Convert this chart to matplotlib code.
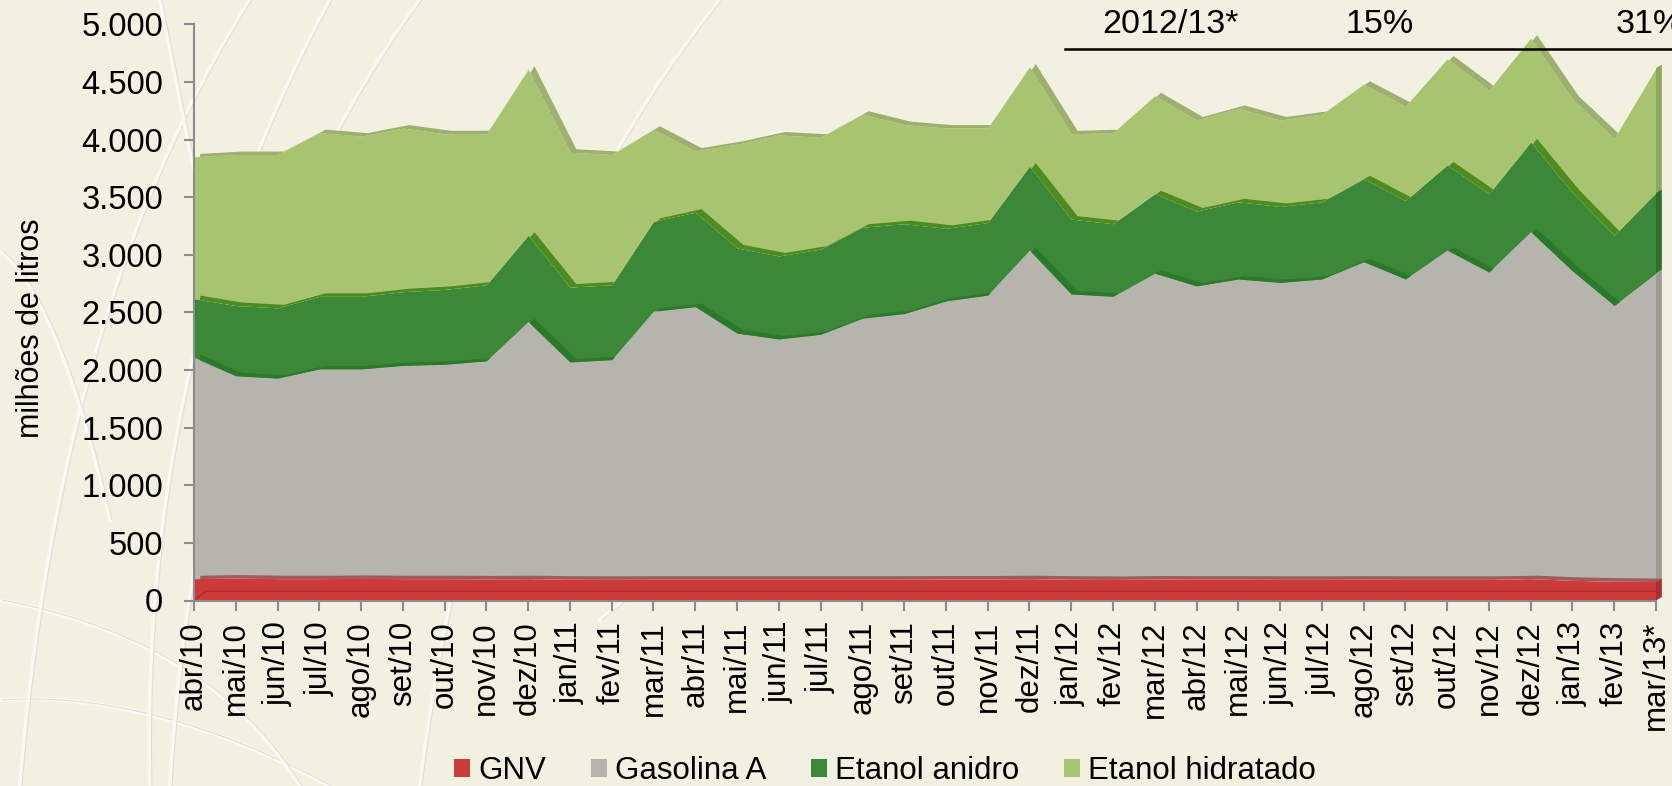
import numpy as np
import matplotlib
matplotlib.use("Agg")
import matplotlib.pyplot as plt
from matplotlib.patches import Patch, Polygon
from matplotlib.lines import Line2D

# ---------------- data (milhões de litros) ----------------
months = ["abr/10", "mai/10", "jun/10", "jul/10", "ago/10", "set/10", "out/10", "nov/10",
          "dez/10", "jan/11", "fev/11", "mar/11", "abr/11", "mai/11", "jun/11", "jul/11",
          "ago/11", "set/11", "out/11", "nov/11", "dez/11", "jan/12", "fev/12", "mar/12",
          "abr/12", "mai/12", "jun/12", "jul/12", "ago/12", "set/12", "out/12", "nov/12",
          "dez/12", "jan/13", "fev/13", "mar/13*"]

gnv = [190, 195, 190, 190, 192, 190, 190, 188, 190, 185, 184, 185, 185, 185, 185, 185,
       185, 186, 187, 187, 190, 185, 183, 187, 186, 186, 184, 184, 186, 184, 184, 184,
       190, 175, 168, 165]
gasolina_a = [1920, 1755, 1740, 1820, 1818, 1850, 1860, 1892, 2230, 1885, 1906, 2325,
              2365, 2135, 2085, 2125, 2265, 2304, 2413, 2463, 2850, 2475, 2457, 2653,
              2544, 2604, 2576, 2606, 2754, 2606, 2856, 2666, 3010, 2685, 2392, 2675]
etanol_anidro = [510, 610, 610, 630, 630, 640, 650, 660, 750, 650, 650, 780, 820, 740,
                 720, 740, 790, 780, 630, 630, 730, 650, 630, 690, 650, 670, 660, 670,
                 720, 680, 740, 680, 780, 680, 610, 700]
etanol_hidratado = [1230, 1310, 1330, 1420, 1390, 1420, 1350, 1310, 1440, 1170, 1130, 800,
                    530, 900, 1050, 970, 980, 860, 870, 820, 860, 740, 790, 850, 790, 810,
                    750, 760, 820, 820, 920, 900, 900, 810, 840, 1080]

series_names = ["GNV", "Gasolina A", "Etanol anidro", "Etanol hidratado"]
yticks = list(range(0, 5001, 500))

# ---------------- style ----------------
BG = "#f1f0e1"
FACE = ["#cc3b39", "#b6b5ad", "#3d8739", "#a9c470"]
BAND = ["#a45a5a", "#2b7a2b", "#4d8c1e", "#9db06e"]
SIDE = ["#a83030", "#9d9c94", "#2f6f2c", "#8fa85c"]
AXC = "#8c8c8c"
FONT = ["Liberation Sans", "DejaVu Sans"]
plt.rcParams["font.family"] = FONT

W, H = 1672, 786
fig = plt.figure(figsize=(W / 100, H / 100), dpi=100)
fig.patch.set_facecolor(BG)

# decorative background swirls
bg = fig.add_axes([0, 0, 1, 1])
bg.set_xlim(0, W)
bg.set_ylim(H, 0)
bg.axis("off")
bg.set_zorder(-5)
t = np.linspace(0, 1, 200)


def bez(p0, p1, p2):
    p0, p1, p2 = map(np.array, (p0, p1, p2))
    pts = ((1 - t) ** 2)[:, None] * p0 + (2 * (1 - t) * t)[:, None] * p1 + (t ** 2)[:, None] * p2
    return pts[:, 0], pts[:, 1]


curves = [((0, 700), (150, 690), (330, 786)), ((0, 600), (210, 640), (300, 786)),
          ((20, 786), (60, 300), (250, 0)), ((150, 786), (140, 350), (330, 0)),
          ((170, 786), (200, 300), (420, 0)), ((240, 400), (190, 150), (160, 0)),
          ((420, 786), (480, 300), (720, 0)), ((600, 620), (900, 380), (1150, 330)),
          ((0, 250), (60, 300), (110, 520))]
for c in curves:
    xx, yy = bez(*c)
    bg.plot(xx, yy, color="#fbfaf3", lw=3.0, alpha=0.9)
    bg.plot(xx + 2, yy, color="#dad9cd", lw=0.8, alpha=0.8)

# ---------------- main axes ----------------
x0, x1 = 194, 1656
y0, y5 = 600.5, 24.3
ax = fig.add_axes([x0 / W, (H - y0) / H, (x1 - x0) / W, (y0 - y5) / H])
ax.set_xlim(0, len(months) - 1)
ax.set_ylim(0, 5000)
ax.patch.set_alpha(0)

xs = np.arange(len(months))
layers = [np.array(gnv, float), np.array(gasolina_a, float),
          np.array(etanol_anidro, float), np.array(etanol_hidratado, float)]
cum = [np.zeros(len(xs))]
for L in layers:
    cum.append(cum[-1] + L)

dx = 0.14     # 3-D depth offset (category units)
dy = 30.0     # 3-D depth offset (value units)
xmax = xs[-1]

# front faces
for k in range(4):
    ax.fill_between(xs, cum[k], cum[k + 1], color=FACE[k], lw=0, zorder=2)

# floor back edge seen through GNV slab
ax.plot([0, dx * 2, xmax], [0, 80, 80], color="#b02a2a", lw=1.2, zorder=2.2, clip_on=False)

# right side faces
for k in range(4):
    poly = [(xmax, cum[k][-1]), (xmax + dx, cum[k][-1] + dy),
            (xmax + dx, cum[k + 1][-1] + dy), (xmax, cum[k + 1][-1])]
    ax.add_patch(Polygon(poly, closed=True, color=SIDE[k], lw=0, zorder=2.1, clip_on=False))

# top faces (visible part of the depth band above each boundary)
xf = np.linspace(0, xmax + dx, 4000)
for k in range(1, 5):
    c = cum[k]
    front = np.interp(np.minimum(xf, xmax), xs, c)
    side = c[-1] + dy * (xf - xmax) / dx
    low = np.where(xf <= xmax, front, side)
    back = np.where(xf >= dx, np.interp(np.clip(xf - dx, 0, xmax), xs, c) + dy, low)
    top = np.maximum(back, low)
    ax.fill_between(xf, low, top, color=BAND[k - 1], lw=0, zorder=3, clip_on=False)

# axes styling
for s in ["top", "right"]:
    ax.spines[s].set_visible(False)
for s in ["left", "bottom"]:
    ax.spines[s].set_color(AXC)
    ax.spines[s].set_linewidth(1.5)
    ax.spines[s].set_zorder(4)
ax.set_yticks(yticks)
ax.set_yticklabels([f"{v:,}".replace(",", ".") for v in yticks])
ax.set_xticks(xs)
ax.set_xticklabels(months, rotation=90)
ax.tick_params(axis="y", direction="out", length=7.2, width=1.5, color=AXC, pad=15, labelsize=23.5)
ax.tick_params(axis="x", direction="out", length=7.2, width=1.5, color=AXC, pad=7.5, labelsize=22.5)

fig.text(31 / W, 1 - 328 / H, "milhões de litros", rotation=90, ha="center", va="center",
         fontsize=22)

# top annotation row
fig.text(1171 / W, 1 - 33 / H, "2012/13*", ha="center", va="baseline", fontsize=24.5)
fig.text(1379 / W, 1 - 33 / H, "15%", ha="center", va="baseline", fontsize=24.5)
fig.text(1616 / W, 1 - 33 / H, "31%", ha="left", va="baseline", fontsize=24.5)
fig.add_artist(Line2D([1065 / W, 1.0], [1 - 49.3 / H, 1 - 49.3 / H], color="black", lw=1.8,
                      transform=fig.transFigure))

# legend
handles = [Patch(facecolor=FACE[k], edgecolor="none") for k in range(4)]
fig.legend(handles, series_names, loc="center", bbox_to_anchor=(885 / W, 1 - 771 / H),
           ncol=4, frameon=False, fontsize=22.5, handlelength=0.5, handleheight=0.5,
           handletextpad=0.25, columnspacing=1.45, borderaxespad=0, borderpad=0)

fig.savefig("out.png", dpi=100, facecolor=BG)
